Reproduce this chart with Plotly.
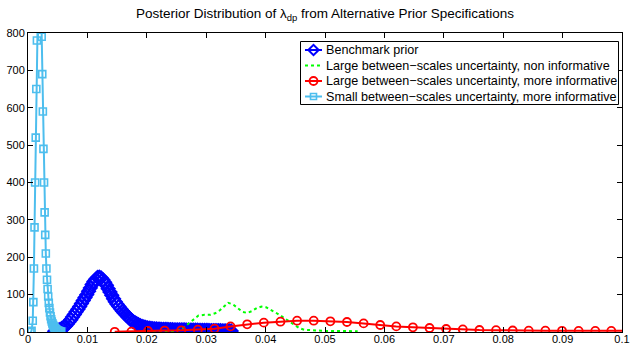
import plotly.graph_objects as go

# Benchmark prior posterior density (evaluation grid and density values)
bench_x = [0.0045, 0.0048, 0.0051, 0.0054, 0.0057, 0.0060, 0.0063, 0.0066, 0.0069, 0.0072,
           0.0075, 0.0078, 0.0081, 0.0084, 0.0087, 0.0090, 0.0093, 0.0096, 0.0099, 0.0102,
           0.0105, 0.0108, 0.0111, 0.0114, 0.0117, 0.0120, 0.0123, 0.0126, 0.0129, 0.0132,
           0.0135, 0.0138, 0.0141, 0.0144, 0.0147, 0.0150, 0.0153, 0.0156, 0.0159, 0.0162,
           0.0165, 0.0168, 0.0171, 0.0174, 0.0177, 0.0180, 0.0183, 0.0186, 0.0189, 0.0192,
           0.0195, 0.0198, 0.0201, 0.0204, 0.0207, 0.0210, 0.0213, 0.0216, 0.0219, 0.0222,
           0.0225, 0.0228, 0.0231, 0.0234, 0.0237, 0.0240, 0.0243, 0.0246, 0.0249, 0.0252,
           0.0255, 0.0258, 0.0261, 0.0264, 0.0267, 0.0270, 0.0273, 0.0276, 0.0279, 0.0282,
           0.0285, 0.0288, 0.0291, 0.0294, 0.0297, 0.0300, 0.0303, 0.0306, 0.0309, 0.0312,
           0.0315, 0.0318, 0.0321, 0.0324, 0.0327, 0.0330, 0.0333, 0.0336, 0.0339, 0.0342]
bench_y = [2, 3.5, 5, 7, 9.5, 12.5, 16, 21, 27, 33,
           40, 47, 54, 61, 68, 76, 84, 92, 100, 109,
           118, 127, 135, 141, 146, 147, 145, 140, 133, 125,
           116, 107, 98, 89, 81, 74, 68, 62, 56, 51,
           46, 41, 36, 32, 28, 25, 22, 19.5, 17, 15,
           13.5, 12, 11, 10.2, 9.5, 9, 8.5, 8.1, 7.8, 7.5,
           7.2, 7, 6.8, 6.6, 6.4, 6.2, 6, 5.9, 5.8, 5.7,
           5.6, 5.5, 5.4, 5.3, 5.2, 5.1, 5, 4.9, 4.8, 4.7,
           4.6, 4.5, 4.4, 4.3, 4.2, 4.1, 4, 3.9, 3.8, 3.7,
           3.6, 3.5, 3.4, 3.3, 3.2, 3.1, 3, 2.9, 2.8, 2.7]

# Large between-scales uncertainty, non informative
noninf_x = [0.0200, 0.0230, 0.0245, 0.0255, 0.0262, 0.0270, 0.0278, 0.0287, 0.0297, 0.0307,
            0.0315, 0.0323, 0.0330, 0.0337, 0.0345, 0.0353, 0.0361, 0.0369, 0.0377, 0.0385,
            0.0393, 0.0401, 0.0409, 0.0417, 0.0425, 0.0433, 0.0441, 0.0449, 0.0457, 0.0465,
            0.0480, 0.0500, 0.0520, 0.0540, 0.0555]
noninf_y = [0, 0.5, 2, 6, 12, 22, 33, 44, 46, 46,
            50, 58, 68, 78, 74, 63, 54, 51, 56, 64,
            68, 66, 60, 52, 44, 35, 26, 17, 10, 6,
            4, 3, 3, 2, 2]

# Large between-scales uncertainty, more informative
large_x = [0.0146, 0.0174, 0.0202, 0.0230, 0.0258, 0.0286, 0.0314, 0.0341, 0.0369, 0.0397,
           0.0425, 0.0453, 0.0481, 0.0509, 0.0537, 0.0565, 0.0593, 0.0620, 0.0648, 0.0676,
           0.0704, 0.0732, 0.0760, 0.0788, 0.0816, 0.0843, 0.0871, 0.0899, 0.0927, 0.0955,
           0.0982, 0.1010]
large_y = [0.5, 1, 2.7, 3.8, 4.5, 6.3, 9, 15, 20.6, 25,
           27.6, 30.3, 30.3, 28.6, 26.7, 23, 18.7, 15, 12.5, 10.7,
           8, 7, 5.3, 5, 4, 3.5, 3.5, 3.2, 3, 3,
           3, 3]

# Small between-scales uncertainty, more informative
small_x = [0.0004, 0.0006, 0.0008, 0.0009, 0.0010, 0.0011, 0.0012, 0.0013, 0.0014, 0.0015,
           0.0016, 0.0017, 0.0018, 0.0019, 0.0020, 0.0021, 0.0022, 0.0023, 0.0024, 0.0025,
           0.0026, 0.0027, 0.0028, 0.0029, 0.0030, 0.0031, 0.0032, 0.0033, 0.0034, 0.0035,
           0.0036, 0.0037, 0.0038, 0.0039, 0.0040, 0.0041, 0.0042, 0.0043, 0.0044, 0.0045,
           0.0046, 0.0047, 0.0048, 0.0050, 0.0052, 0.0054, 0.0056]
small_y = [0, 3, 30, 80, 170, 280, 400, 520, 650, 780,
           880, 960, 1010, 1030, 1010, 950, 880, 790, 690, 590,
           490, 400, 320, 260, 210, 170, 140, 115, 95, 78,
           64, 52, 42, 34, 28, 23, 19, 16, 13, 11,
           9, 7.5, 6, 4, 3, 2, 1.5]

series_names = [
    "Benchmark prior",
    "Large between\u2212scales uncertainty, non informative",
    "Large between\u2212scales uncertainty, more informative",
    "Small between\u2212scales uncertainty, more informative",
]

x_ticks = [0, 0.01, 0.02, 0.03, 0.04, 0.05, 0.06, 0.07, 0.08, 0.09, 0.1]
x_tick_text = ["0", "0.01", "0.02", "0.03", "0.04", "0.05", "0.06", "0.07", "0.08", "0.09", "0.1"]
y_ticks = [0, 100, 200, 300, 400, 500, 600, 700, 800]

FONT = "Liberation Sans, Arial, sans-serif"
BLUE, GREEN, RED, CYAN = "#0000ff", "#00ff00", "#ff0000", "#4dbeee"

# per-series drawing styles, in legend order
styles = [
    dict(mode="lines+markers", line=dict(color=BLUE, width=2),
         marker=dict(symbol="diamond-open", size=10, color=BLUE, line=dict(width=2, color=BLUE))),
    dict(mode="lines", line=dict(color=GREEN, width=2, dash="dot")),
    dict(mode="lines+markers", line=dict(color=RED, width=2),
         marker=dict(symbol="circle-open", size=8, color=RED, line=dict(width=1.8, color=RED))),
    dict(mode="lines+markers", line=dict(color=CYAN, width=2),
         marker=dict(symbol="square-open", size=7, color=CYAN, line=dict(width=1.6, color=CYAN))),
]
legend_marker_size = [8, None, 8, 6]
series = [(bench_x, bench_y), (noninf_x, noninf_y), (large_x, large_y), (small_x, small_y)]

fig = go.Figure()
for (xs, ys), name, st in zip(series, series_names, styles):
    fig.add_trace(go.Scatter(x=xs, y=ys, name=name, showlegend=False, **st))

# Boxed legend drawn on its own small subplot (units: pixels inside the box)
LEG_W, LEG_H = 319, 64
row_y = [9, 24.5, 40, 55.5]
for ry, name, st, msize in zip(row_y, series_names, styles, legend_marker_size):
    fig.add_trace(go.Scatter(x=[5, 22], y=[ry, ry], mode="lines", line=st["line"],
                             xaxis="x2", yaxis="y2", showlegend=False, hoverinfo="skip"))
    if "marker" in st:
        mk = dict(st["marker"], size=msize)
        fig.add_trace(go.Scatter(x=[13.5], y=[ry], mode="markers", marker=mk,
                                 xaxis="x2", yaxis="y2", showlegend=False, hoverinfo="skip"))
    fig.add_annotation(x=23.5, y=ry, xref="x2", yref="y2", text=name, showarrow=False,
                       xanchor="left", yanchor="middle",
                       font=dict(family=FONT, size=12.6, color="black"))
fig.add_shape(type="rect", xref="x2", yref="y2", x0=0.5, x1=LEG_W - 0.5, y0=0.5, y1=LEG_H - 0.5,
              line=dict(color="black", width=1), layer="above")

axis_common = dict(
    ticks="inside", ticklen=5, tickcolor="black", tickwidth=1,
    showline=True, linecolor="black", linewidth=1, mirror="ticks",
    showgrid=False, zeroline=False, automargin=False,
    tickfont=dict(family=FONT, size=11, color="black"),
)

fig.update_layout(
    width=630, height=344,
    margin=dict(l=28, r=8, t=33, b=12),
    paper_bgcolor="white", plot_bgcolor="white",
    font=dict(family=FONT, size=11, color="black"),
    title=dict(
        text="Posterior Distribution of \u03bb<sub>dp</sub> from Alternative Prior Specifications",
        xref="paper", x=0.5, xanchor="center", yref="container", y=0.962, yanchor="middle",
        font=dict(family=FONT, size=13.5, color="black"),
    ),
    showlegend=False,
    xaxis=dict(range=[0, 0.1], tickvals=x_ticks, ticktext=x_tick_text,
               ticklabelstandoff=-3, **axis_common),
    yaxis=dict(range=[0, 800], tickvals=y_ticks, **axis_common),
    xaxis2=dict(domain=[(300 - 28) / 594, (619 - 28) / 594], range=[0, LEG_W], anchor="y2",
                visible=False, fixedrange=True),
    yaxis2=dict(domain=[(332 - 105) / 299, (332 - 41) / 299], range=[LEG_H, 0], anchor="x2",
                visible=False, fixedrange=True),
)

fig.write_html("out.html")
